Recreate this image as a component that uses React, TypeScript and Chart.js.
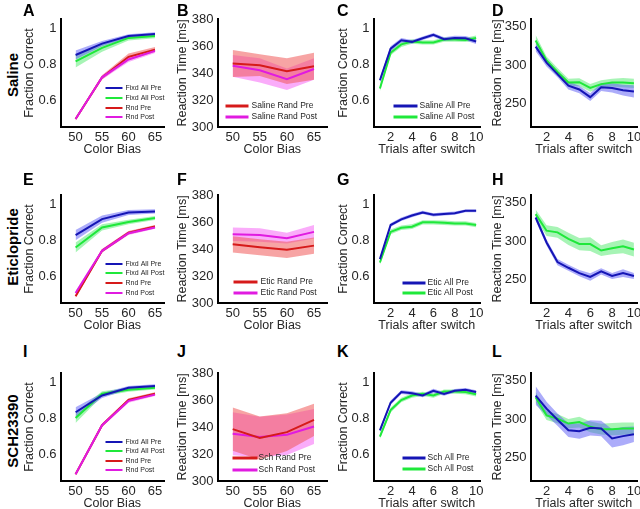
import React, { useEffect, useRef } from "react";
import { Chart, registerables } from "chart.js";
Chart.register(...registerables);

const FONT = '"Liberation Sans", Arial, Helvetica, sans-serif';
const TXT = "#262626";

const BLUE = "#1515b5";
const BLUE_BAND = "rgba(90,90,245,0.5)";
const GREEN = "#1fe83a";
const GREEN_BAND = "rgba(60,230,90,0.45)";
const RED = "#d61a1a";
const RED_BAND = "rgba(240,90,90,0.55)";
const MAG = "#e01be0";
const MAG_BAND = "rgba(245,90,245,0.5)";

// x categories
const colorBias = [50, 55, 60, 65];
const trials = [1, 2, 3, 4, 5, 6, 7, 8, 9, 10];

// tick labels
const biasTicks = [50, 55, 60, 65];
const trialTicks = [2, 4, 6, 8, 10];
const fracTicks = [0.6, 0.8, 1];
const rtBiasTicks = [300, 320, 340, 360, 380];
const rtTrialTicks = [250, 300, 350];

// A – Saline
const salFixPre = [0.85, 0.913, 0.955, 0.966];
const salFixPreSem = [0.025, 0.015, 0.01, 0.01];
const salFixPost = [0.815, 0.89, 0.945, 0.955];
const salFixPostSem = [0.035, 0.022, 0.014, 0.012];
const salRndPre = [0.494, 0.726, 0.84, 0.88];
const salRndPreSem = [0.008, 0.012, 0.018, 0.014];
const salRndPost = [0.494, 0.726, 0.825, 0.873];
const salRndPostSem = [0.008, 0.012, 0.014, 0.012];
// B
const salRandPreRT = [347, 345.8, 341.4, 345];
const salRandPreRTSem = [10, 8, 9.5, 10];
const salRandPostRT = [345.3, 342, 335.4, 343];
const salRandPostRTSem = [8, 9, 8, 8];
// C
const salAllPre = [0.71, 0.885, 0.932, 0.923, 0.943, 0.962, 0.938, 0.945, 0.943, 0.925];
const salAllPreSem = [0.015, 0.014, 0.012, 0.01, 0.01, 0.01, 0.01, 0.012, 0.012, 0.014];
const salAllPost = [0.664, 0.862, 0.909, 0.925, 0.92, 0.92, 0.936, 0.936, 0.934, 0.945];
const salAllPostSem = [0.016, 0.014, 0.014, 0.012, 0.012, 0.012, 0.012, 0.012, 0.012, 0.014];
// D
const salAllPreRT = [324, 303, 288, 273, 268, 258, 271, 270, 267, 265.5];
const salAllPreRTSem = [6, 5, 4, 5, 5, 5, 5, 6, 7, 8];
const salAllPostRT = [332, 306, 291, 277, 277.5, 270, 275, 277, 277, 276];
const salAllPostRTSem = [7, 5, 5, 5, 5, 5, 5, 5, 6, 6];

// E – Eticlopride
const eticFixPre = [0.827, 0.916, 0.953, 0.959];
const eticFixPreSem = [0.028, 0.02, 0.014, 0.012];
const eticFixPost = [0.758, 0.87, 0.9, 0.922];
const eticFixPostSem = [0.028, 0.017, 0.012, 0.011];
const eticRndPre = [0.488, 0.74, 0.84, 0.875];
const eticRndPreSem = [0.01, 0.01, 0.01, 0.008];
const eticRndPost = [0.506, 0.74, 0.838, 0.87];
const eticRndPostSem = [0.01, 0.01, 0.01, 0.008];
// F
const eticRandPreRT = [343.5, 341.3, 339.4, 342.5];
const eticRandPreRTSem = [6, 6, 6, 6];
const eticRandPostRT = [351, 350.3, 348, 352.7];
const eticRandPostRTSem = [5, 5, 4, 5];
// G
const eticAllPre = [0.694, 0.883, 0.915, 0.936, 0.953, 0.94, 0.945, 0.949, 0.962, 0.962];
const eticAllPreSem = [0.01, 0.01, 0.01, 0.01, 0.009, 0.009, 0.009, 0.009, 0.008, 0.008];
const eticAllPost = [0.675, 0.845, 0.868, 0.874, 0.898, 0.898, 0.896, 0.892, 0.892, 0.883];
const eticAllPostSem = [0.013, 0.013, 0.013, 0.013, 0.012, 0.012, 0.012, 0.012, 0.012, 0.012];
// H
const eticAllPreRT = [330.6, 298, 272.4, 265, 258, 253, 260.3, 254.3, 258, 254.3];
const eticAllPreRTSem = [4, 4, 4, 4, 4, 5, 4, 4, 5, 4];
const eticAllPostRT = [335, 313.4, 311.2, 302.6, 296, 296, 287.5, 290.5, 293, 288.8];
const eticAllPostRTSem = [6, 7, 7, 8, 8, 9, 7, 8, 9, 9];

// I – SCH23390
const schFixPre = [0.832, 0.925, 0.968, 0.978];
const schFixPreSem = [0.028, 0.014, 0.01, 0.009];
const schFixPost = [0.8, 0.935, 0.957, 0.968];
const schFixPostSem = [0.028, 0.014, 0.011, 0.01];
const schRndPre = [0.488, 0.76, 0.9, 0.935];
const schRndPreSem = [0.008, 0.01, 0.01, 0.008];
const schRndPost = [0.488, 0.76, 0.895, 0.93];
const schRndPostSem = [0.008, 0.01, 0.01, 0.008];
// J
const schRandPreRT = [338.4, 331.8, 336.2, 345.3];
const schRandPreRTSem = [16, 16, 14, 12];
const schRandPostRT = [335, 332.6, 334.3, 340.4];
const schRandPostRTSem = [16, 15, 15, 13];
// K
const schAllPre = [0.731, 0.885, 0.944, 0.938, 0.925, 0.951, 0.934, 0.951, 0.957, 0.944];
const schAllPreSem = [0.012, 0.012, 0.01, 0.01, 0.01, 0.012, 0.01, 0.01, 0.01, 0.01];
const schAllPost = [0.697, 0.844, 0.9, 0.925, 0.934, 0.925, 0.947, 0.947, 0.944, 0.932];
const schAllPostSem = [0.013, 0.013, 0.013, 0.012, 0.012, 0.012, 0.012, 0.012, 0.012, 0.012];
// L
const schAllPreRT = [330.6, 313.4, 299, 285.3, 284, 288.4, 287.5, 274.6, 277.6, 280];
const schAllPreRTSem = [12, 9, 8, 9, 10, 10, 10, 12, 12, 10];
const schAllPostRT = [328.4, 304.7, 300.4, 294, 296, 289.7, 286.6, 286.6, 287.5, 287.5];
const schAllPostRTSem = [7, 6, 6, 6, 7, 7, 7, 8, 8, 8];

type Series = { label: string; mean: number[]; sem: number[]; line: string; band: string; z: number };
type Legend = { x1: number; x2: number; tx: number; ys: number[]; size: number; lw: number };
type PanelCfg = {
  L: number; T: number; W: number; H: number; titleCx: number; PR: number;
  xs: number[]; xMin: number; xMax: number; yMin: number; yMax: number;
  xTicks: number[]; yTicks: number[]; xTitle: string; yTitle: string;
  series: Series[]; legend?: Legend;
};

const ROW_T = [19, 195, 373];
const H = 108;
const COLS = [
  { L: 60, W: 103, titleCx: 29, PR: 9, xMin: 47.15, xMax: 66.7 },
  { L: 217, W: 109, titleCx: 182, PR: 9, xMin: 47.2, xMax: 67.4 },
  { L: 373, W: 106, titleCx: 343, PR: 9, xMin: 0.4, xMax: 10.36 },
  { L: 530, W: 106, titleCx: 497, PR: 4, xMin: 0.53, xMax: 10.28 },
];

function fracPanel(row: number, s: Series[], ys: number[]): PanelCfg {
  return { ...COLS[0], T: ROW_T[row], H, xs: colorBias, yMin: 0.45, yMax: 1.05, xTicks: biasTicks, yTicks: fracTicks,
    xTitle: "Color Bias", yTitle: "Fraction Correct", series: s,
    legend: { x1: 105, x2: 122, tx: 125, ys, size: 7, lw: 2 } };
}
function rtBiasPanel(row: number, s: Series[], lg: Legend): PanelCfg {
  return { ...COLS[1], T: ROW_T[row], H, xs: colorBias, yMin: 300, yMax: 380, xTicks: biasTicks, yTicks: rtBiasTicks,
    xTitle: "Color Bias", yTitle: "Reaction Time [ms]", series: s, legend: lg };
}
function trialFracPanel(row: number, s: Series[], lg: Legend): PanelCfg {
  return { ...COLS[2], T: ROW_T[row], H, xs: trials, yMin: 0.45, yMax: 1.05, xTicks: trialTicks, yTicks: fracTicks,
    xTitle: "Trials after switch", yTitle: "Fraction Correct", series: s, legend: lg };
}
function trialRtPanel(row: number, s: Series[]): PanelCfg {
  return { ...COLS[3], T: ROW_T[row], H, xs: trials, yMin: 219, yMax: 360, xTicks: trialTicks, yTicks: rtTrialTicks,
    xTitle: "Trials after switch", yTitle: "Reaction Time [ms]", series: s };
}

const ser = (label: string, mean: number[], sem: number[], line: string, band: string, z: number): Series =>
  ({ label, mean, sem, line, band, z });

const PANELS: PanelCfg[] = [
  fracPanel(0, [
    ser("Fixd All Pre", salFixPre, salFixPreSem, BLUE, BLUE_BAND, 2),
    ser("Fixd All Post", salFixPost, salFixPostSem, GREEN, GREEN_BAND, 1),
    ser("Rnd Pre", salRndPre, salRndPreSem, RED, RED_BAND, 3),
    ser("Rnd Post", salRndPost, salRndPostSem, MAG, MAG_BAND, 4),
  ], [88, 98, 108, 117]),
  rtBiasPanel(0, [
    ser("Saline Rand Pre", salRandPreRT, salRandPreRTSem, RED, RED_BAND, 2),
    ser("Saline Rand Post", salRandPostRT, salRandPostRTSem, MAG, MAG_BAND, 1),
  ], { x1: 225, x2: 248, tx: 251, ys: [106, 117], size: 8.5, lw: 3 }),
  trialFracPanel(0, [
    ser("Saline All Pre", salAllPre, salAllPreSem, BLUE, BLUE_BAND, 2),
    ser("Saline All Post", salAllPost, salAllPostSem, GREEN, GREEN_BAND, 1),
  ], { x1: 393, x2: 417, tx: 419, ys: [106, 117], size: 8.5, lw: 3 }),
  trialRtPanel(0, [
    ser("Saline All Pre", salAllPreRT, salAllPreRTSem, BLUE, BLUE_BAND, 2),
    ser("Saline All Post", salAllPostRT, salAllPostRTSem, GREEN, GREEN_BAND, 1),
  ]),
  fracPanel(1, [
    ser("Fixd All Pre", eticFixPre, eticFixPreSem, BLUE, BLUE_BAND, 2),
    ser("Fixd All Post", eticFixPost, eticFixPostSem, GREEN, GREEN_BAND, 1),
    ser("Rnd Pre", eticRndPre, eticRndPreSem, RED, RED_BAND, 3),
    ser("Rnd Post", eticRndPost, eticRndPostSem, MAG, MAG_BAND, 4),
  ], [264, 273, 283, 293]),
  rtBiasPanel(1, [
    ser("Etic Rand Pre", eticRandPreRT, eticRandPreRTSem, RED, RED_BAND, 2),
    ser("Etic Rand Post", eticRandPostRT, eticRandPostRTSem, MAG, MAG_BAND, 1),
  ], { x1: 233, x2: 257, tx: 260, ys: [282, 293], size: 8.5, lw: 3 }),
  trialFracPanel(1, [
    ser("Etic All Pre", eticAllPre, eticAllPreSem, BLUE, BLUE_BAND, 2),
    ser("Etic All Post", eticAllPost, eticAllPostSem, GREEN, GREEN_BAND, 1),
  ], { x1: 402, x2: 425, tx: 427, ys: [283, 293], size: 8.5, lw: 3 }),
  trialRtPanel(1, [
    ser("Etic All Pre", eticAllPreRT, eticAllPreRTSem, BLUE, BLUE_BAND, 2),
    ser("Etic All Post", eticAllPostRT, eticAllPostRTSem, GREEN, GREEN_BAND, 1),
  ]),
  fracPanel(2, [
    ser("Fixd All Pre", schFixPre, schFixPreSem, BLUE, BLUE_BAND, 2),
    ser("Fixd All Post", schFixPost, schFixPostSem, GREEN, GREEN_BAND, 1),
    ser("Rnd Pre", schRndPre, schRndPreSem, RED, RED_BAND, 3),
    ser("Rnd Post", schRndPost, schRndPostSem, MAG, MAG_BAND, 4),
  ], [442, 451, 461, 470]),
  rtBiasPanel(2, [
    ser("Sch Rand Pre", schRandPreRT, schRandPreRTSem, RED, RED_BAND, 2),
    ser("Sch Rand Post", schRandPostRT, schRandPostRTSem, MAG, MAG_BAND, 1),
  ], { x1: 232, x2: 257, tx: 258, ys: [458, 470], size: 8.5, lw: 3 }),
  trialFracPanel(2, [
    ser("Sch All Pre", schAllPre, schAllPreSem, BLUE, BLUE_BAND, 2),
    ser("Sch All Post", schAllPost, schAllPostSem, GREEN, GREEN_BAND, 1),
  ], { x1: 402, x2: 425, tx: 427, ys: [458, 469], size: 8.5, lw: 3 }),
  trialRtPanel(2, [
    ser("Sch All Pre", schAllPreRT, schAllPreRTSem, BLUE, BLUE_BAND, 2),
    ser("Sch All Post", schAllPostRT, schAllPostRTSem, GREEN, GREEN_BAND, 1),
  ]),
];

const LETTERS = ["A", "B", "C", "D", "E", "F", "G", "H", "I", "J", "K", "L"];
const LETTER_X = [23, 177, 337, 492];
const LETTER_CAP_TOP = [5, 174, 346];
const ROW_LABELS = ["Saline", "Eticlopride", "SCH23390"];
const ROW_LABEL_CY = [75, 247, 431];

const PT = 8;
const AB = 30;

function Panel({ cfg }: { cfg: PanelCfg }) {
  const ref = useRef<HTMLCanvasElement>(null);
  const canvasLeft = cfg.titleCx - 7.5;
  const canvasTop = cfg.T - PT;
  const AX = cfg.L - canvasLeft;
  const cw = Math.round(AX + cfg.W + cfg.PR);
  const ch = PT + cfg.H + AB;

  useEffect(() => {
    if (!ref.current) return;
    const datasets: any[] = [];
    cfg.series.forEach((s) => {
      datasets.push({
        data: cfg.xs.map((x, j) => ({ x, y: s.mean[j] })),
        borderColor: s.line, borderWidth: 2, pointRadius: 0, fill: false, order: 10 - s.z, tension: 0,
      });
    });
    cfg.series.forEach((s) => {
      const up = datasets.length;
      datasets.push({
        data: cfg.xs.map((x, j) => ({ x, y: s.mean[j] + s.sem[j] })),
        borderWidth: 0, borderColor: "rgba(0,0,0,0)", pointRadius: 0, fill: false, order: 100 - s.z * 2,
      });
      datasets.push({
        data: cfg.xs.map((x, j) => ({ x, y: s.mean[j] - s.sem[j] })),
        borderWidth: 0, borderColor: "rgba(0,0,0,0)", pointRadius: 0, fill: up, backgroundColor: s.band,
        order: 100 - s.z * 2 - 1,
      });
    });

    const legendPlugin = {
      id: "miniLegend",
      afterDatasetsDraw(chart: any) {
        const lg = cfg.legend;
        if (!lg) return;
        const ctx = chart.ctx;
        ctx.save();
        cfg.series.forEach((s, i) => {
          const y = lg.ys[i] - canvasTop;
          ctx.strokeStyle = s.line;
          ctx.lineWidth = lg.lw;
          ctx.beginPath();
          ctx.moveTo(lg.x1 - canvasLeft, y);
          ctx.lineTo(lg.x2 - canvasLeft, y);
          ctx.stroke();
          ctx.fillStyle = TXT;
          ctx.font = `${lg.size}px ${FONT}`;
          ctx.textBaseline = "middle";
          ctx.textAlign = "left";
          ctx.fillText(s.label, lg.tx - canvasLeft, y);
        });
        ctx.restore();
      },
    };

    const tickFmt = (v: any) => String(Math.round(Number(v) * 100) / 100);
    const chart = new Chart(ref.current, {
      type: "line",
      data: { datasets },
      options: {
        animation: false,
        responsive: false,
        maintainAspectRatio: false,
        devicePixelRatio: 1,
        events: [],
        layout: { padding: { top: PT, right: cfg.PR, left: 0, bottom: 0 } },
        plugins: { legend: { display: false }, tooltip: { enabled: false } },
        scales: {
          x: {
            type: "linear", min: cfg.xMin, max: cfg.xMax,
            grid: { display: false, drawTicks: false },
            border: { display: true, color: "#000", width: 2 },
            ticks: { color: TXT, font: { family: FONT, size: 13 }, padding: 3, maxRotation: 0, autoSkip: false, callback: tickFmt },
            title: { display: true, text: cfg.xTitle, color: TXT, font: { family: FONT, size: 12.5 }, padding: 0 },
            afterBuildTicks: (ax: any) => { ax.ticks = cfg.xTicks.map((v) => ({ value: v })); },
            afterFit: (s: any) => { s.height = AB; s.paddingLeft = 0; s.paddingRight = 0; },
          },
          y: {
            type: "linear", min: cfg.yMin, max: cfg.yMax,
            grid: { display: false, drawTicks: false },
            border: { display: true, color: "#000", width: 2 },
            ticks: { color: TXT, font: { family: FONT, size: 13 }, padding: 4, autoSkip: false, callback: tickFmt },
            title: { display: true, text: cfg.yTitle, color: TXT, font: { family: FONT, size: 12.5 }, padding: 0 },
            afterBuildTicks: (ax: any) => { ax.ticks = cfg.yTicks.map((v) => ({ value: v })); },
            afterFit: (s: any) => { s.width = AX; s.paddingTop = 0; s.paddingBottom = 0; },
          },
        },
      } as any,
      plugins: [legendPlugin],
    });
    return () => chart.destroy();
  }, []);

  return (
    <canvas
      ref={ref}
      width={cw}
      height={ch}
      style={{ position: "absolute", left: canvasLeft, top: canvasTop, width: cw, height: ch, display: "block" }}
    />
  );
}

export default function App() {
  return (
    <div style={{ position: "absolute", left: 0, top: 0, width: 640, height: 509, background: "#fff", overflow: "hidden" }}>
      {PANELS.map((p, i) => (
        <Panel key={i} cfg={p} />
      ))}
      {LETTERS.map((l, i) => (
        <div
          key={l}
          style={{
            position: "absolute", left: LETTER_X[i % 4], top: LETTER_CAP_TOP[Math.floor(i / 4)] - 2,
            font: `bold 16px ${FONT}`, lineHeight: "16px", color: "#000",
          }}
        >
          {l}
        </div>
      ))}
      {ROW_LABELS.map((r, i) => (
        <div
          key={r}
          style={{
            position: "absolute", left: 12, top: ROW_LABEL_CY[i], transform: "translate(-50%, -50%) rotate(-90deg)",
            font: `bold 15px ${FONT}`, lineHeight: "15px", color: "#000", whiteSpace: "nowrap",
          }}
        >
          {r}
        </div>
      ))}
    </div>
  );
}
